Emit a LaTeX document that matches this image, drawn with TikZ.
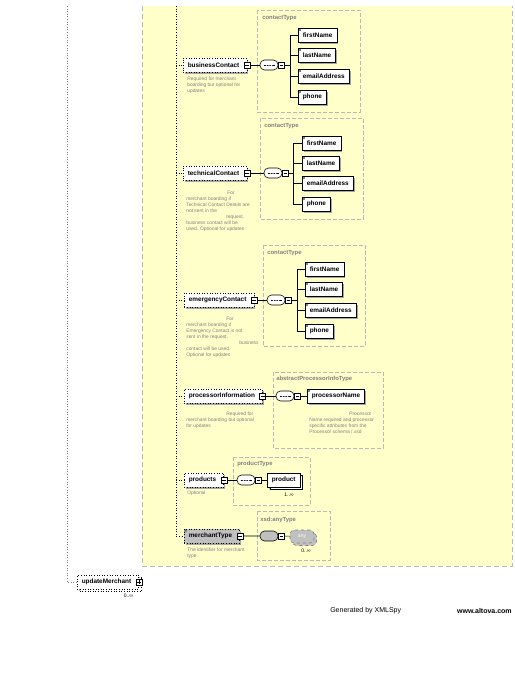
\documentclass[tikz,border=0pt]{standalone}
\usepackage{fontspec}
\setmainfont{Liberation Sans}
\usetikzlibrary{positioning,shadows}

\definecolor{panelyellow}{RGB}{255,255,202}
\definecolor{framegray}{RGB}{185,185,185}
\definecolor{boxgray}{RGB}{192,192,192}

\begin{document}
\begin{tikzpicture}[x=1pt,y=-1pt,line width=0.6pt,
  elem/.style={draw,fill=white,anchor=west,minimum height=14pt,inner xsep=4.5pt,inner ysep=0pt,
    font=\fontsize{6.4}{7}\selectfont\bfseries,
    drop shadow={shadow xshift=1.5pt,shadow yshift=-1.5pt,fill=black!35,opacity=1}},
  optelem/.style={elem,dotted,execute at end node={\hspace{3pt}}},
  simple/.style={path picture={\fill[gray] (path picture bounding box.north west) rectangle ++(3pt,-3pt);}},
  minus/.style={draw,solid,fill=white,minimum size=6pt,inner sep=0pt,
    path picture={\draw[line width=0.5pt] ([xshift=-1.8pt]path picture bounding box.center) -- ([xshift=1.8pt]path picture bounding box.center);}},
  plus/.style={draw,solid,fill=white,minimum size=6pt,inner sep=0pt,
    path picture={\draw[line width=0.5pt] ([xshift=-1.8pt]path picture bounding box.center) -- ([xshift=1.8pt]path picture bounding box.center)
      ([yshift=-1.8pt]path picture bounding box.center) -- ([yshift=1.8pt]path picture bounding box.center);}},
  seq/.style={draw,fill=white,rounded corners=4.5pt,minimum width=18pt,minimum height=10pt,inner sep=0pt,
    path picture={\draw[line width=0.7pt] ([xshift=-5.5pt]path picture bounding box.center) -- ([xshift=5.5pt]path picture bounding box.center);
      \foreach \d in {-2.6,0,2.6} \fill ([xshift=\d pt]path picture bounding box.center) circle (0.9pt);}},
  anyseq/.style={draw,fill=boxgray,rounded corners=4.5pt,minimum width=18pt,minimum height=10pt,inner sep=0pt},
  anyelem/.style={draw=gray,dashed,fill=boxgray,rounded corners=4pt,minimum width=24pt,minimum height=13pt,inner sep=0pt,
    text=white,font=\fontsize{5}{6}\selectfont},
  stack/.style={copy shadow={shadow xshift=2.5pt,shadow yshift=-2.5pt,draw,fill=#1}},
  stack/.default=white,
  typebox/.style={draw=framegray,dash pattern=on 4pt off 2pt},
  typelabel/.style={anchor=north west,inner sep=0pt,text=gray,font=\fontsize{5.9}{6}\selectfont\bfseries},
  desc/.style={anchor=north west,align=left,inner sep=0pt,text=gray,font=\fontsize{4.9}{6}\selectfont},
  mult/.style={inner sep=0pt,font=\fontsize{5}{6}\selectfont}
]
\useasboundingbox (0,0) rectangle (514,696);

% yellow panel of the sequence
\fill[panelyellow] (142,6) rectangle (512,566);
\draw[framegray,dash pattern=on 5pt off 3pt,line width=0.8pt] (142,6) -- (142,566) -- (512,566) -- (512,6);

% businessContact
\node[optelem] (bc) at (183,65) {businessContact};
\node[minus] (bcM) at (bc.east) {};
\node[seq] (bcS) at (269,65) {};
\node[minus,right=0pt of bcS] (bcSM) {};
\draw[typebox] (257,10) rectangle (360,112);
\node[typelabel] (bcT) at (262,15) {contactType};
\foreach \i/\t/\y in {1/firstName/35,2/lastName/55,3/emailAddress/76,4/phone/97}
  \node[elem,simple] (bc\i) at (298,\y) {\t};
\coordinate (bcBr) at (290,65);
\draw (bcM) -- (bcS) (bcSM) -- (bcBr) (bcBr |- bc1.west) -- (bcBr |- bc4.west);
\foreach \i in {1,...,4} \draw (bcBr |- bc\i.west) -- (bc\i.west);
\node[desc] (bcD) at (187,76.5) {Required for merchant\\boarding but optional for\\updates};

% technicalContact
\node[optelem] (tc) at (183,173) {technicalContact};
\node[minus] (tcM) at (tc.east) {};
\node[seq] (tcS) at (273,173) {};
\node[minus,right=0pt of tcS] (tcSM) {};
\draw[typebox] (260,118) rectangle (363,219);
\node[typelabel] (tcT) at (264,123.5) {contactType};
\foreach \i/\t/\y in {1/firstName/143,2/lastName/163,3/emailAddress/183,4/phone/204}
  \node[elem,simple] (tc\i) at (302,\y) {\t};
\coordinate (tcBr) at (293,173);
\draw (tcM) -- (tcS) (tcSM) -- (tcBr) (tcBr |- tc1.west) -- (tcBr |- tc4.west);
\foreach \i in {1,...,4} \draw (tcBr |- tc\i.west) -- (tc\i.west);
\node[desc] (tcD) at (186,190.5) {\hspace*{41pt}For\\merchant boarding if\\Technical Contact Details are\\not sent in the\\\hspace*{40pt}request,\\business contact will be\\used. Optional for updates};

% emergencyContact
\node[optelem] (ec) at (184,300) {emergencyContact};
\node[minus] (ecM) at (ec.east) {};
\node[seq] (ecS) at (276,300) {};
\node[minus,right=0pt of ecS] (ecSM) {};
\draw[typebox] (263,245) rectangle (365,346);
\node[typelabel] (ecT) at (267,250.5) {contactType};
\foreach \i/\t/\y in {1/firstName/269,2/lastName/289,3/emailAddress/310,4/phone/331}
  \node[elem,simple] (ec\i) at (305,\y) {\t};
\coordinate (ecBr) at (297,300);
\draw (ecM) -- (ecS) (ecSM) -- (ecBr) (ecBr |- ec1.west) -- (ecBr |- ec4.west);
\foreach \i in {1,...,4} \draw (ecBr |- ec\i.west) -- (ec\i.west);
\node[desc] (ecD) at (186,316.5) {\hspace*{40pt}For\\merchant boarding if\\Emergency Contact is not\\sent in the request,\\\hspace*{53pt}business\\contact will be used.\\Optional for updates};

% processorInformation
\node[optelem] (pi) at (184,396) {processorInformation};
\node[minus] (piM) at (pi.east) {};
\node[seq] (piS) at (285,396) {};
\node[minus,right=0pt of piS] (piSM) {};
\draw[typebox] (273,372) rectangle (383,448);
\node[typelabel] (piT) at (276,375.5) {abstractProcessorInfoType};
\node[elem,simple] (pi1) at (307,396) {processorName};
\draw (piM) -- (piS) (piSM) -- (pi1);
\node[desc] (piD) at (186,411.5) {\hspace*{40pt}Required for\\merchant boarding but optional\\for updates};
\node[desc] (pi1D) at (309,411.5) {\hspace*{40pt}Processor\\Name required and processor\\specific attributes from the\\Processor schema / xsd};

% products
\node[optelem] (pd) at (184,480) {products};
\node[minus] (pdM) at (pd.east) {};
\node[seq] (pdS) at (246,480) {};
\node[minus,right=0pt of pdS] (pdSM) {};
\draw[typebox] (233,457) rectangle (310,505);
\node[typelabel] (pdT) at (237,460.5) {productType};
\node[elem,stack] (pd1) at (267,480) {product};
\node[mult] (pd1m) at (289,494.5) {1..∞};
\draw (pdM) -- (pdS) (pdSM) -- (pd1);
\node[desc] (pdD) at (187,490.5) {Optional};

% merchantType
\node[optelem,simple,fill=boxgray] (mt) at (184,536) {merchantType};
\node[minus] (mtM) at (mt.east) {};
\node[anyseq] (mtS) at (269,536) {};
\node[minus,right=0pt of mtS] (mtSM) {};
\draw[typebox] (257,511) rectangle (330,560);
\node[typelabel] (mtT) at (260,516.5) {xsd:anyType};
\node[anyelem,stack=boxgray] (mt1) at (302,536.5) {any};
\node[mult] (mt1m) at (306,551) {0..∞};
\draw (mtM) -- (mtS) (mtSM) -- (mt1);
\node[desc] (mtD) at (187,547.5) {The identifier for merchant\\type.};

% updateMerchant
\node[optelem,stack,dotted] (um) at (77,582) {updateMerchant};
\node[plus] (umP) at (um.east) {};
\node[mult] (umm) at (128.5,596) {0..∞};

% sequence lines
\coordinate (outerTop) at (67,6);
\draw[gray,dotted] (outerTop) |- (um.west);
\coordinate (innerTop) at (176,6);
\draw[dotted] (innerTop) |- (mt.west);
\foreach \n in {bc,tc,ec,pi,pd} \draw[dotted] (innerTop |- \n.west) -- (\n.west);

% footer
\node[anchor=west,inner sep=0pt,font=\fontsize{7}{8}\selectfont] (gen) at (330,611) {Generated by XMLSpy};
\node[anchor=east,inner sep=0pt,font=\fontsize{7}{8}\selectfont\bfseries] (web) at (512,611) {www.altova.com};
\end{tikzpicture}
\end{document}
